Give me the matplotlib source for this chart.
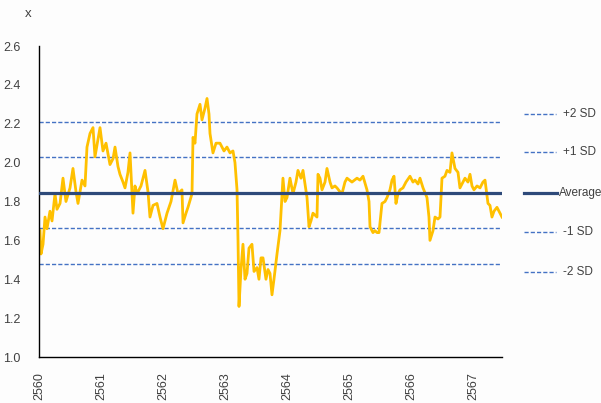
import numpy as np
import matplotlib
matplotlib.use('Agg')
import matplotlib.pyplot as plt
from matplotlib.lines import Line2D

plt.rcParams['font.family'] = ['Liberation Sans', 'DejaVu Sans']

# ปี (ทศนิยม) และค่า x อ่านจากภาพ
t_off = [0.016, 0.032, 0.065, 0.097, 0.129, 0.177, 0.210, 0.258, 0.290, 0.339,
         0.387, 0.435, 0.500, 0.548, 0.597, 0.629, 0.694, 0.742, 0.774, 0.823,
         0.871, 0.903, 0.952, 0.984, 1.032, 1.081, 1.145, 1.194, 1.226, 1.274,
         1.306, 1.355, 1.387, 1.435, 1.468, 1.516, 1.548, 1.581, 1.645, 1.710,
         1.758, 1.790, 1.839, 1.903, 1.952, 2.000, 2.032, 2.065, 2.129, 2.194,
         2.242, 2.306, 2.323, 2.371, 2.403, 2.468, 2.484, 2.516, 2.548, 2.597,
         2.629, 2.677, 2.710, 2.742, 2.758, 2.806, 2.855, 2.919, 2.984, 3.032,
         3.081, 3.129, 3.161, 3.194, 3.210, 3.226, 3.258, 3.290, 3.323, 3.355,
         3.387, 3.435, 3.468, 3.516, 3.548, 3.581, 3.613, 3.661, 3.694, 3.726,
         3.758, 3.790, 3.839, 3.887, 3.935, 3.968, 4.000, 4.048, 4.097, 4.145,
         4.177, 4.226, 4.258, 4.323, 4.355, 4.387, 4.419, 4.484, 4.500, 4.532,
         4.565, 4.613, 4.645, 4.694, 4.726, 4.774, 4.806, 4.855, 4.887, 4.935,
         4.968, 5.048, 5.129, 5.177, 5.226, 5.290, 5.323, 5.339, 5.387, 5.419,
         5.452, 5.484, 5.532, 5.581, 5.613, 5.661, 5.694, 5.726, 5.758, 5.790,
         5.823, 5.871, 5.919, 5.984, 6.032, 6.065, 6.113, 6.145, 6.194, 6.258,
         6.290, 6.306, 6.355, 6.387, 6.435, 6.468, 6.500, 6.548, 6.581, 6.629,
         6.661, 6.710, 6.758, 6.790, 6.839, 6.871, 6.919, 6.952, 6.984, 7.016,
         7.065, 7.113, 7.161, 7.194, 7.242, 7.274, 7.306, 7.339, 7.387, 7.435,
         7.468]
values = [1.65, 1.53, 1.58, 1.72, 1.66, 1.75, 1.70, 1.84, 1.76, 1.79,
          1.92, 1.80, 1.87, 1.97, 1.85, 1.79, 1.91, 1.88, 2.08, 2.15,
          2.18, 2.03, 2.12, 2.18, 2.06, 2.10, 1.99, 2.02, 2.08, 1.98,
          1.94, 1.90, 1.87, 1.95, 2.05, 1.74, 1.88, 1.84, 1.88, 1.96,
          1.85, 1.72, 1.78, 1.79, 1.72, 1.66, 1.70, 1.74, 1.80, 1.91,
          1.84, 1.86, 1.69, 1.74, 1.77, 1.84, 2.13, 2.10, 2.25, 2.30,
          2.22, 2.28, 2.33, 2.25, 2.15, 2.05, 2.10, 2.10, 2.06, 2.08,
          2.05, 2.06, 2.00, 1.86, 1.60, 1.26, 1.45, 1.58, 1.40, 1.43,
          1.56, 1.58, 1.44, 1.46, 1.40, 1.51, 1.51, 1.40, 1.45, 1.43,
          1.32, 1.40, 1.53, 1.65, 1.92, 1.80, 1.82, 1.92, 1.84, 1.90,
          1.96, 1.92, 1.96, 1.82, 1.67, 1.70, 1.74, 1.72, 1.94, 1.92,
          1.86, 1.90, 1.97, 1.90, 1.87, 1.88, 1.87, 1.85, 1.84, 1.90,
          1.92, 1.90, 1.92, 1.91, 1.93, 1.86, 1.80, 1.67, 1.64, 1.65,
          1.64, 1.64, 1.79, 1.80, 1.82, 1.86, 1.91, 1.93, 1.79, 1.84,
          1.86, 1.87, 1.90, 1.93, 1.90, 1.91, 1.89, 1.92, 1.87, 1.82,
          1.72, 1.60, 1.65, 1.72, 1.71, 1.72, 1.92, 1.93, 1.96, 1.95,
          2.05, 1.97, 1.95, 1.87, 1.90, 1.92, 1.90, 1.94, 1.88, 1.86,
          1.88, 1.87, 1.90, 1.91, 1.79, 1.78, 1.72, 1.75, 1.77, 1.74,
          1.72]
years = [2560 + v for v in t_off]

average = 1.845
sd = 0.182
band_labels = ['+2 SD', '+1 SD', 'Average', '-1 SD', '-2 SD']
band_values = [average + 2 * sd, average + sd, average, average - sd, average - 2 * sd]
year_ticks = [2560, 2561, 2562, 2563, 2564, 2565, 2566, 2567]

fig = plt.figure(figsize=(6.01, 4.03), dpi=100)
fig.patch.set_facecolor('#fdfdfd')
ax = fig.add_axes([39 / 601, 1 - 357 / 403, (502 - 39) / 601, (357 - 46) / 403])
ax.set_facecolor('#fdfdfd')

sd_color = '#4472C4'
avg_color = '#2E4A7A'
for lab, val in zip(band_labels, band_values):
    if lab == 'Average':
        ax.axhline(val, color=avg_color, lw=2.3, zorder=3, xmax=0.998)
    else:
        ax.axhline(val, color=sd_color, lw=1.0, ls=(0, (3, 1.5)), zorder=1, xmax=0.995)

ax.plot(years, values, color='#FFC000', lw=2.0, zorder=2)

ax.set_xlim(2560, 2560 + 7.468)
ax.set_ylim(1.0, 2.6)
ax.set_yticks(np.arange(1.0, 2.61, 0.2))
ax.set_yticklabels(['%.1f' % v for v in np.arange(1.0, 2.61, 0.2)])
ax.set_xticks(year_ticks)
ax.set_xticklabels([str(y) for y in year_ticks], rotation=90)
ax.tick_params(axis='both', length=0, labelsize=9, colors='#404040')
ax.tick_params(axis='x', pad=11)
ax.tick_params(axis='y', pad=13.5)
for s in ['top', 'right']:
    ax.spines[s].set_visible(False)
for s in ['left', 'bottom']:
    ax.spines[s].set_color('black')
    ax.spines[s].set_linewidth(1.0)

fig.text(28 / 601, 1 - 14 / 403, 'x', fontsize=9.5, color='#404040', ha='center', va='center')

# คำอธิบายด้านขวา
leg_y = [114, 152, 193, 232, 272]
for lab, yp in zip(band_labels, leg_y):
    yf = 1 - yp / 403
    if lab == 'Average':
        fig.add_artist(Line2D([524 / 601, 557 / 601], [yf, yf], color=avg_color, lw=2.3))
        fig.text(559 / 601, yf, lab, fontsize=8.5, color='#404040', va='center', ha='left')
    else:
        fig.add_artist(Line2D([524 / 601, 556 / 601], [yf, yf], color=sd_color, lw=1.0, ls=(0, (3, 1.5))))
        fig.text(563 / 601, yf, lab, fontsize=8.5, color='#404040', va='center', ha='left')

fig.savefig('out.png', dpi=100, facecolor=fig.get_facecolor())
